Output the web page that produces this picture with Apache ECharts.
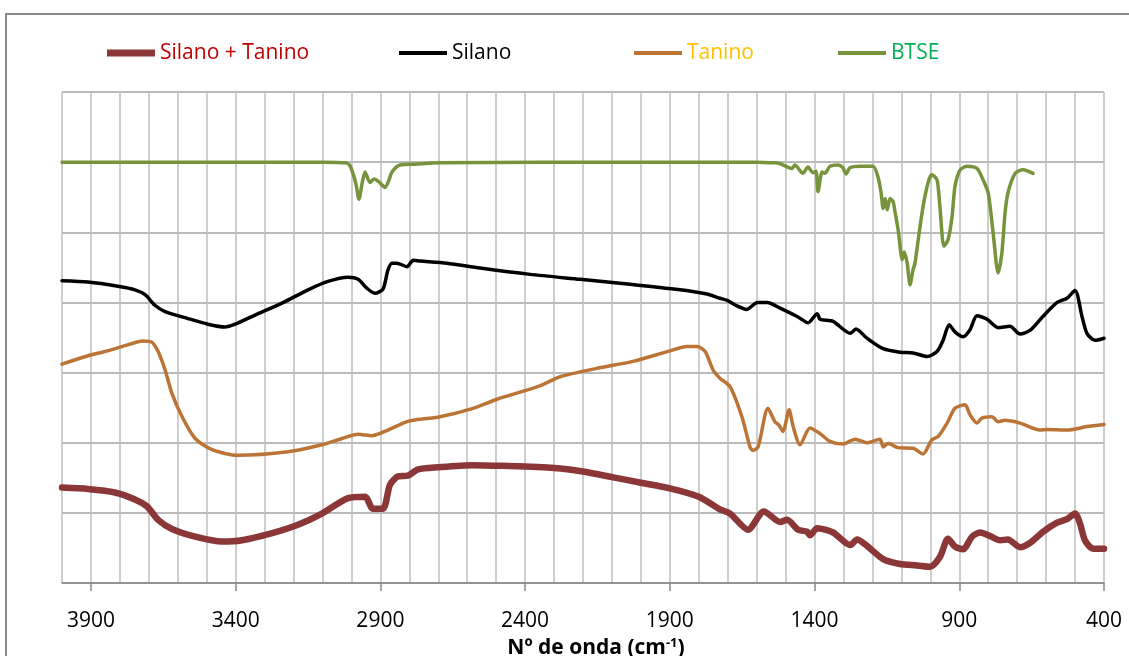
<!DOCTYPE html>
<html>
<head>
<meta charset="utf-8">
<title>Espectros FTIR</title>
<script src="https://cdn.jsdelivr.net/npm/echarts@6/dist/echarts.min.js"></script>
<style>
  html, body { margin: 0; padding: 0; background: #fff; }
  #chart { width: 1129px; height: 656px; }
</style>
</head>
<body>
<div id="chart"></div>
<script>
// Wavenumber tick labels (cm-1)
const tickLabels = [3900, 3400, 2900, 2400, 1900, 1400, 900, 400];

const seriesNames = ['Silano + Tanino', 'Silano', 'Tanino', 'BTSE'];

// Spectra as [wavenumber, offset transmittance]
const silanoTanino = [
  [4000, 13.6], [3910, 13.4], [3817, 12.9], [3748, 11.9], [3706, 10.9], [3668, 9.0],
  [3620, 7.7], [3540, 6.6], [3447, 5.9], [3378, 6.1], [3274, 7.1], [3185, 8.3],
  [3102, 9.9], [3012, 12.1], [2953, 12.3], [2926, 10.6], [2891, 10.6], [2867, 14.0],
  [2839, 15.2], [2805, 15.3], [2770, 16.2], [2701, 16.5], [2583, 16.8], [2480, 16.7],
  [2300, 16.4], [2200, 15.9], [2100, 15.1], [2000, 14.3], [1900, 13.5], [1800, 12.3],
  [1727, 10.5], [1692, 9.9], [1630, 7.6], [1575, 10.2], [1519, 8.7], [1495, 9.0],
  [1457, 7.6], [1426, 7.3], [1416, 6.8], [1391, 7.8], [1336, 7.2], [1277, 5.4],
  [1253, 6.2], [1219, 5.3], [1163, 3.4], [1105, 2.7], [1046, 2.5], [1001, 2.3],
  [967, 3.7], [939, 6.3], [915, 5.2], [887, 4.8], [856, 6.6], [828, 7.2],
  [794, 6.7], [759, 6.1], [732, 6.2], [690, 5.1], [656, 5.7], [611, 7.3],
  [562, 8.6], [528, 9.1], [500, 9.9], [483, 8.5], [466, 6.1], [438, 4.9], [400, 4.9]
];

const silano = [
  [4000, 43.1], [3910, 42.9], [3807, 42.3], [3748, 41.8], [3713, 41.1], [3679, 39.6],
  [3644, 38.7], [3565, 37.7], [3496, 36.9], [3437, 36.5], [3402, 36.9], [3333, 38.2],
  [3240, 39.9], [3150, 41.8], [3081, 43.0], [3012, 43.6], [2977, 43.3], [2946, 42.0],
  [2919, 41.3], [2891, 41.9], [2874, 44.6], [2860, 45.6], [2843, 45.6], [2808, 45.1],
  [2787, 46.0], [2763, 45.9], [2670, 45.6], [2556, 44.9], [2383, 44.0], [2210, 43.3],
  [2038, 42.6], [1865, 41.8], [1772, 41.2], [1727, 40.6], [1702, 40.3], [1668, 39.5],
  [1635, 39.0], [1597, 40.0], [1564, 40.0], [1519, 39.2], [1460, 38.0], [1422, 37.1],
  [1391, 38.4], [1381, 37.6], [1336, 37.3], [1277, 35.6], [1257, 36.2], [1219, 34.9],
  [1163, 33.4], [1105, 32.9], [1060, 32.8], [1011, 32.3], [977, 33.0], [956, 34.6],
  [935, 36.8], [915, 35.8], [887, 35.1], [863, 36.1], [839, 38.1], [804, 37.6],
  [766, 36.4], [725, 36.6], [690, 35.5], [656, 36.0], [611, 38.0], [562, 40.0],
  [528, 40.6], [500, 41.7], [476, 38.0], [459, 35.6], [431, 34.6], [400, 34.9]
];

const tanino = [
  [4000, 31.2], [3910, 32.4], [3851, 33.0], [3793, 33.7], [3720, 34.5], [3689, 34.3],
  [3668, 33.0], [3644, 30.4], [3620, 27.0], [3585, 23.7], [3540, 20.6], [3482, 19.0],
  [3392, 18.2], [3219, 18.7], [3102, 19.7], [3033, 20.6], [2977, 21.2], [2929, 21.0],
  [2874, 21.8], [2815, 22.9], [2787, 23.2], [2694, 23.7], [2580, 24.9], [2497, 26.2],
  [2349, 28.1], [2279, 29.4], [2152, 30.6], [2027, 31.6], [1899, 33.1], [1841, 33.7],
  [1806, 33.7], [1778, 33.0], [1751, 30.4], [1727, 29.2], [1692, 28.0], [1651, 23.7],
  [1623, 19.4], [1613, 18.9], [1595, 19.4], [1561, 24.9], [1537, 23.0], [1523, 22.5],
  [1509, 21.6], [1488, 24.7], [1474, 22.3], [1450, 19.7], [1416, 22.1], [1381, 21.3],
  [1347, 20.2], [1302, 19.8], [1260, 20.5], [1219, 20.0], [1174, 20.5], [1163, 19.4],
  [1146, 19.9], [1112, 19.3], [1060, 19.2], [1025, 18.4], [995, 20.4], [973, 20.9],
  [942, 22.8], [915, 24.9], [880, 25.4], [863, 24.0], [839, 22.8], [822, 23.5],
  [787, 23.7], [766, 23.0], [742, 23.2], [690, 22.8], [621, 21.8], [597, 21.9],
  [528, 21.8], [459, 22.3], [400, 22.6]
];

const btse = [
  [4000, 60], [3500, 60], [3100, 60], [3020, 59.9], [3005, 59.5], [2985, 57.0],
  [2974, 54.7], [2963, 57.0], [2953, 58.6], [2936, 57.1], [2922, 57.6], [2905, 57.2],
  [2884, 56.4], [2870, 57.5], [2860, 58.6], [2832, 59.6], [2780, 59.7], [2700, 59.9],
  [2000, 60], [1600, 60], [1540, 59.9], [1520, 59.8], [1478, 59.1], [1468, 59.6],
  [1440, 58.4], [1423, 59.3], [1405, 58.5], [1395, 58.7], [1388, 55.8], [1374, 58.6],
  [1364, 58.4], [1347, 59.4], [1319, 59.6], [1302, 59.2], [1291, 58.3], [1278, 59.2],
  [1243, 59.4], [1198, 59.4], [1181, 57.9], [1170, 55.6], [1163, 53.4], [1156, 54.8],
  [1149, 53.2], [1139, 54.8], [1129, 54.4], [1122, 52.9], [1111, 50.3], [1097, 46.1],
  [1090, 47.2], [1080, 45.6], [1070, 42.5], [1060, 44.6], [1053, 45.6], [1042, 48.9],
  [1025, 53.7], [1007, 57.2], [995, 58.2], [977, 57.5], [967, 53.7], [953, 48.0],
  [939, 48.9], [925, 52.2], [915, 56.5], [897, 58.9], [873, 59.4], [839, 59.1],
  [818, 57.5], [800, 55.6], [783, 49.9], [766, 44.2], [753, 47.0], [742, 52.7],
  [732, 55.6], [707, 58.4], [680, 58.9], [662, 58.7], [645, 58.4]
];

const lineColors = ['#8B3737', '#000000', '#BC7336', '#77933C'];
const legendTextColors = ['#C00000', '#000000', '#FFC000', '#00B050'];
const legendLeft = [107, 399, 634, 838];
const lineWidths = [6.5, 3.5, 3.5, 3.5];
const seriesData = [silanoTanino, silano, tanino, btse];

const FONT = '"Open Sans", "Liberation Sans", sans-serif';

const chart = echarts.init(document.getElementById('chart'), null, { renderer: 'canvas' });

const legends = seriesNames.map((name, i) => ({
  data: [{ name: name, icon: 'rect', textStyle: { color: legendTextColors[i] } }],
  left: legendLeft[i],
  top: 41,
  itemWidth: 48,
  itemHeight: i === 0 ? 7 : 4,
  padding: 0,
  selectedMode: false,
  textStyle: { fontFamily: FONT, fontSize: 21, lineHeight: 24 }
}));

const series = seriesNames.map((name, i) => ({
  name: name,
  type: 'line',
  xAxisIndex: 0,
  data: seriesData[i],
  showSymbol: false,
  symbol: 'none',
  smooth: 0.25,
  z: 10 - i,
  color: lineColors[i],
  lineStyle: { color: lineColors[i], width: lineWidths[i], cap: 'round', join: 'round' },
  emphasis: { disabled: true },
  silent: true
}));

const xRange = { type: 'value', inverse: true, min: 400, max: 4000 };

chart.setOption({
  animation: false,
  backgroundColor: '#ffffff',
  textStyle: { fontFamily: FONT },
  graphic: [{
    type: 'rect',
    shape: { x: 6, y: 14, width: 1140, height: 660 },
    style: { fill: 'none', stroke: '#8A8A8A', lineWidth: 2 },
    silent: true,
    z: -1
  }],
  legend: legends,
  grid: { left: 62, right: 25, top: 92, bottom: 73, containLabel: false, outerBoundsMode: 'none' },
  xAxis: [
    // Grid axis: a vertical line every 100 cm-1
    Object.assign({}, xRange, {
      interval: 100,
      axisLine: { show: false },
      axisTick: { show: false },
      axisLabel: { show: false },
      splitLine: { show: true, lineStyle: { color: '#BEBEBE', width: 1.5 } }
    }),
    // Labelled axis: ticks and labels every 500 cm-1
    Object.assign({}, xRange, {
      position: 'bottom',
      interval: 100,
      name: 'Nº de onda (cm{sup|-1})',
      nameLocation: 'middle',
      nameGap: 53,
      nameTextStyle: {
        fontFamily: FONT,
        fontSize: 21,
        fontWeight: 'bold',
        color: '#000',
        padding: [0, 0, 0, 26],
        rich: {
          sup: { fontSize: 13, fontWeight: 'bold', verticalAlign: 'top', padding: [0, 0, 10, 0], color: '#000' }
        }
      },
      axisLine: { show: true, lineStyle: { color: '#878787', width: 1.5 } },
      axisTick: {
        show: true,
        inside: false,
        length: 8,
        customValues: tickLabels,
        lineStyle: { color: '#878787', width: 1.5 }
      },
      axisLabel: {
        show: true,
        margin: 28,
        customValues: tickLabels,
        fontFamily: FONT,
        fontSize: 21,
        color: '#000',
        formatter: v => (tickLabels.indexOf(v) >= 0 ? String(v) : '')
      },
      splitLine: { show: false }
    })
  ],
  yAxis: {
    type: 'value',
    min: 0,
    max: 70,
    interval: 10,
    axisLine: { show: false },
    axisTick: { show: false },
    axisLabel: { show: false },
    splitLine: { show: true, lineStyle: { color: '#A3A3A3', width: 1.5 } }
  },
  series: series
});
</script>
</body>
</html>
